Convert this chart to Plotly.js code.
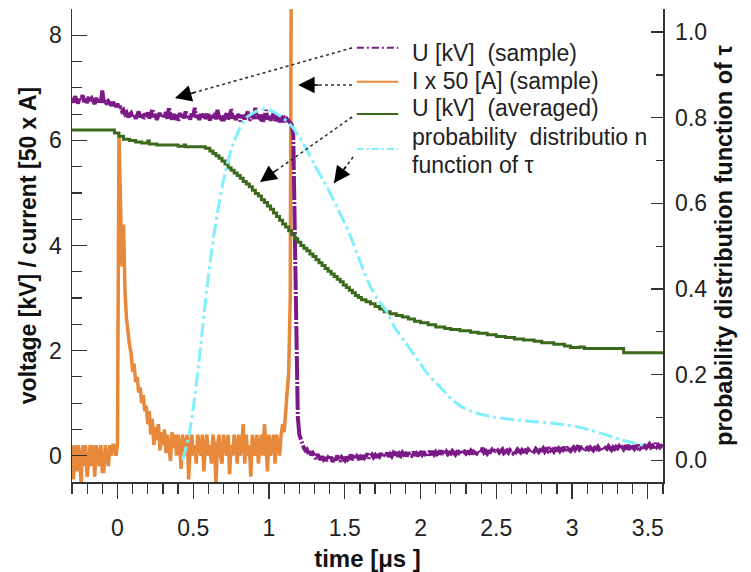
<!DOCTYPE html>
<html>
<head>
<meta charset="utf-8">
<script src="https://cdn.plot.ly/plotly-3.0.1.min.js"></script>
<style>html,body{margin:0;padding:0;background:#fff;}#chart{width:751px;height:572px;}</style>
</head>
<body>
<div id="chart"></div>
<script>
// ---- sampled traces: start time and sampling step (µs) ----
const sampleStart = -0.30;
const sampleStep = 0.01;

// U [kV] (sample), t = -0.30 ... 3.60
const uSample = [
  // -0.30 .. -0.09
  6.80, 6.72, 6.84, 6.76, 6.70, 6.82, 6.78, 6.86, 6.73, 6.79,
  6.71, 6.83, 6.76, 6.80, 6.74, 6.69, 6.81, 6.73, 6.78, 6.70,
  6.95, 6.72,
  // -0.08 .. 0.08
  6.76, 6.68, 6.74, 6.70, 6.66, 6.73, 6.67, 6.64, 6.70, 6.60,
  6.62, 6.55, 6.58, 6.50, 6.53, 6.44, 6.49,
  // 0.09 .. 1.08
  6.52, 6.43, 6.50, 6.41, 6.47, 6.55, 6.44, 6.49, 6.40, 6.51,
  6.46, 6.53, 6.42, 6.48, 6.60, 6.44, 6.50, 6.39, 6.47, 6.52,
  6.43, 6.49, 6.45, 6.54, 6.41, 6.63, 6.46, 6.40, 6.50, 6.44,
  6.48, 6.36, 6.52, 6.45, 6.49, 6.42, 6.55, 6.44, 6.47, 6.40,
  6.51, 6.45, 6.62, 6.43, 6.48, 6.39, 6.50, 6.44, 6.53, 6.41,
  6.46, 6.50, 6.38, 6.47, 6.43, 6.52, 6.40, 6.58, 6.45, 6.42,
  6.49, 6.37, 6.46, 6.51, 6.41, 6.44, 6.60, 6.42, 6.47, 6.39,
  6.45, 6.50, 6.36, 6.44, 6.48, 6.40, 6.46, 6.55, 6.38, 6.43,
  6.47, 6.41, 6.62, 6.39, 6.45, 6.42, 6.49, 6.36, 6.44, 6.58,
  6.40, 6.46, 6.38, 6.43, 6.52, 6.37, 6.44, 6.41, 6.35, 6.47,
  // 1.09 .. 1.15
  6.39, 6.42, 6.34, 6.40, 6.36, 6.32, 6.30,
  // 1.16 .. 1.29 (collapse)
  6.10, 4.20, 1.80, 0.75, 0.40, 0.30, 0.20, 0.15, 0.10, 0.12,
  0.04, 0.08, 0.01, 0.05,
  // 1.30 .. 3.60
  0.00, -0.06, 0.03, -0.04, -0.08, -0.01, -0.07, -0.03, -0.10, -0.04,
  -0.08, -0.02, -0.12, -0.05, -0.09, 0.00, -0.07, -0.11, -0.03, -0.06,
  -0.09, -0.02, -0.07, -0.04, 0.02, -0.08, -0.03, -0.06, -0.01, -0.05,
  -0.02, -0.07, 0.01, -0.04, -0.01, 0.04, -0.05, -0.02, 0.02, -0.03,
  0.01, -0.04, 0.03, -0.01, 0.05, -0.03, 0.02, 0.00, 0.06, -0.02,
  0.03, -0.01, 0.05, 0.01, 0.10, -0.02, 0.04, 0.00, 0.06, 0.02,
  0.04, -0.01, 0.06, 0.02, 0.00, 0.07, 0.03, 0.05, -0.01, 0.04,
  0.06, 0.02, 0.08, 0.03, 0.05, 0.01, 0.09, 0.04, 0.06, 0.02,
  0.07, 0.03, 0.05, 0.10, 0.02, 0.06, 0.04, 0.08, 0.03, 0.06,
  0.04, 0.09, 0.05, 0.02, 0.07, 0.05, 0.11, 0.03, 0.06, 0.08,
  0.04, 0.07, 0.05, 0.09, 0.03, 0.08, 0.06, 0.04, 0.10, 0.05,
  0.08, 0.15, 0.06, 0.09, 0.04, 0.08, 0.07, 0.11, 0.05, 0.09,
  0.07, 0.10, 0.06, 0.09, 0.12, 0.05, 0.08, 0.10, 0.06, 0.11,
  0.08, 0.05, 0.10, 0.07, 0.12, 0.09, 0.06, 0.11, 0.08, 0.10,
  0.07, 0.12, 0.09, 0.06, 0.11, 0.08, 0.13, 0.09, 0.07, 0.11,
  0.10, 0.14, 0.08, 0.12, 0.09, 0.16, 0.10, 0.12, 0.08, 0.13,
  0.11, 0.14, 0.09, 0.13, 0.11, 0.17, 0.10, 0.14, 0.12, 0.09,
  0.13, 0.16, 0.11, 0.14, 0.19, 0.12, 0.15, 0.11, 0.14, 0.12,
  0.15, 0.12, 0.16, 0.13, 0.10, 0.15, 0.13, 0.17, 0.12, 0.14,
  0.16, 0.12, 0.15, 0.13, 0.18, 0.14, 0.11, 0.16, 0.13, 0.17,
  0.14, 0.18, 0.13, 0.16, 0.12, 0.17, 0.15, 0.20, 0.14, 0.16,
  0.17, 0.13, 0.18, 0.15, 0.21, 0.14, 0.17, 0.16, 0.19, 0.15,
  0.18, 0.22, 0.16, 0.19, 0.15, 0.24, 0.17, 0.20, 0.16, 0.19,
  0.18
];

// I x 50 [A] (sample), t = -0.30 ... 1.16
const iSample = [
  0.20, -0.45, 0.20, -0.30, 0.20, 0.00, -0.55, 0.20, -0.20, 0.20,
  -0.40, 0.00, 0.20, -0.20, 0.20, -0.40, 0.20, 0.00, -0.20, 0.20,
  -0.30, -0.30, 0.20, 0.00, -0.20, 0.20, 0.00, 0.20, 0.20, 0.00,
  0.20, 6.10, 4.95, 3.60, 4.40, 3.10, 2.60, 2.30, 2.10, 1.95,
  1.60, 1.75, 1.40, 1.50, 1.20, 1.30, 1.00, 1.15, 0.85, 0.95,
  0.60, 0.85, 0.40, 0.70, 0.20, 0.55, 0.30, 0.60, 0.10, 0.45,
  0.20, 0.50, 0.05, 0.40, 0.20, -0.10, 0.45, 0.15, 0.40, 0.00,
  0.40, 0.20, -0.25, 0.40, 0.00, 0.20, 0.40, -0.45, 0.20, 0.40,
  0.00, 0.20, -0.15, 0.40, 0.20, 0.00, 0.40, -0.30, 0.20, 0.40,
  0.00, 0.20, -0.15, 0.40, 0.20, -0.55, 0.20, 0.40, 0.00, -0.15,
  0.40, 0.20, 0.00, 0.40, -0.35, 0.20, 0.00, 0.40, 0.20, -0.15,
  0.40, 0.00, 0.20, 0.60, -0.15, 0.40, 0.00, 0.20, -0.40, 0.40,
  0.20, 0.00, 0.40, -0.15, 0.20, 0.40, 0.00, 0.60, 0.20, -0.30,
  0.40, 0.00, 0.20, 0.40, -0.15, 0.40, 0.20, 0.00, 0.40, 0.60,
  0.45, 0.80, 1.10, 1.60, 3.00, 12.0, 12.0
];

// U [kV] (averaged) - step line
const avgTime = [-0.30, -0.02, 0.01, 0.04, 0.08, 0.12, 0.16, 0.20, 0.21, 0.26,
  0.40, 0.44, 0.45, 0.58, 0.61, 0.63, 0.65, 0.67, 0.69, 0.71,
  0.73, 0.75, 0.77, 0.79, 0.81, 0.83, 0.85, 0.87, 0.89, 0.91,
  0.93, 0.95, 0.97, 0.99, 1.01, 1.03, 1.05, 1.07, 1.09, 1.11,
  1.13, 1.15, 1.17, 1.19, 1.21, 1.23, 1.25, 1.27, 1.29, 1.31,
  1.33, 1.35, 1.37, 1.39, 1.41, 1.43, 1.45, 1.47, 1.49, 1.51,
  1.53, 1.55, 1.57, 1.59, 1.61, 1.64, 1.67, 1.70, 1.73, 1.76,
  1.80, 1.84, 1.88, 1.92, 1.96, 2.00, 2.05, 2.10, 2.16, 2.20,
  2.26, 2.33, 2.38, 2.44, 2.50, 2.56, 2.62, 2.68, 2.75, 2.80,
  2.88, 2.95, 2.99, 3.05, 3.08, 3.34, 3.60];
const avgU = [6.20, 6.14, 6.08, 6.02, 6.00, 5.97, 5.95, 5.99, 5.93, 5.91,
  5.89, 5.91, 5.88, 5.85, 5.80, 5.75, 5.71, 5.66, 5.61, 5.55,
  5.48, 5.43, 5.38, 5.33, 5.28, 5.22, 5.17, 5.12, 5.05, 4.99,
  4.94, 4.87, 4.82, 4.75, 4.69, 4.62, 4.55, 4.48, 4.41, 4.35,
  4.28, 4.21, 4.13, 4.06, 4.00, 3.95, 3.90, 3.84, 3.79, 3.73,
  3.67, 3.62, 3.56, 3.51, 3.46, 3.41, 3.36, 3.31, 3.25, 3.20,
  3.15, 3.10, 3.05, 3.01, 2.97, 2.93, 2.89, 2.84, 2.79, 2.74,
  2.70, 2.67, 2.64, 2.60, 2.56, 2.53, 2.49, 2.45, 2.42, 2.40,
  2.38, 2.35, 2.33, 2.30, 2.27, 2.25, 2.22, 2.20, 2.18, 2.15,
  2.12, 2.09, 2.06, 2.07, 2.04, 1.96, 1.96];

// probability distribution function of tau (right axis)
const pdfTime = [0.43, 0.47, 0.50, 0.55, 0.59, 0.63, 0.67, 0.71, 0.75, 0.80,
  0.85, 0.90, 0.95, 1.00, 1.05, 1.10, 1.15, 1.20, 1.25, 1.30,
  1.38, 1.45, 1.53, 1.60, 1.67, 1.72, 1.78, 1.83, 1.89, 1.95,
  2.00, 2.05, 2.11, 2.17, 2.22, 2.27, 2.33, 2.40, 2.48, 2.56,
  2.65, 2.75, 2.87, 2.96, 3.05, 3.12, 3.20, 3.27, 3.33, 3.41, 3.49];
const pdfVal = [0.00, 0.055, 0.12, 0.27, 0.40, 0.51, 0.60, 0.67, 0.725, 0.77,
  0.80, 0.812, 0.82, 0.818, 0.81, 0.797, 0.78, 0.755, 0.725, 0.69,
  0.64, 0.59, 0.53, 0.465, 0.405, 0.375, 0.345, 0.31, 0.28, 0.25,
  0.225, 0.20, 0.178, 0.155, 0.138, 0.125, 0.115, 0.107, 0.101, 0.097,
  0.093, 0.09, 0.086, 0.082, 0.077, 0.07, 0.062, 0.054, 0.047, 0.04, 0.033];

// legend texts (drawn as a key inside the plot)
const legendNames = [
  'U [kV]&nbsp; (sample)',
  'I x 50 [A] (sample)',
  'U [kV]&nbsp; (averaged)',
  'probability&nbsp; distributio n',
  'function of τ'
];
const xTicks = [0, 0.5, 1, 1.5, 2, 2.5, 3, 3.5];
const xTickText = ['0', '0.5', '1', '1.5', '2', '2.5', '3', '3.5'];
const yTicks = [0, 2, 4, 6, 8];
const y2Ticks = [0, 0.2, 0.4, 0.6, 0.8, 1.0];
const y2TickText = ['0.0', '0.2', '0.4', '0.6', '0.8', '1.0'];

// annotation arrows (dotted leader lines from key to curves), data coordinates
const arrowFrom = [[1.548, 7.76], [1.548, 7.054], [1.548, 6.445], [1.555, 5.684]];
const arrowTo   = [[0.380, 6.807], [1.192, 7.054], [0.941, 5.209], [1.429, 5.19]];

const FONT = 'Liberation Sans, Arial, Helvetica, sans-serif';
const purple = '#7b1a86', orange = '#e8883a', green = '#3b6a1c', cyan = '#80f0ff';
const purpleDash = '24px,2px,2px,2px';
const cyanDash = '14px,4px,3px,4px';

const traces = [
  {x0: sampleStart, dx: sampleStep, y: iSample, type: 'scatter', mode: 'lines',
   name: 'I x 50 [A] (sample)', line: {color: orange, width: 3.5}},
  {x0: sampleStart, dx: sampleStep, y: uSample, type: 'scatter', mode: 'lines',
   name: 'U [kV] (sample)', line: {color: purple, width: 4, dash: purpleDash}},
  {x: avgTime, y: avgU, type: 'scatter', mode: 'lines', name: 'U [kV] (averaged)',
   line: {color: green, width: 3, shape: 'hv'}},
  {x: pdfTime, y: pdfVal, yaxis: 'y2', type: 'scatter', mode: 'lines', name: 'probability distribution function of τ',
   line: {color: cyan, width: 3, dash: cyanDash, shape: 'spline', smoothing: 0.8}}
];

// key (legend) layout in paper coordinates
const keySym = [
  {y: 0.918, color: purple, dash: '7px,3px,2px,3px'},
  {y: 0.846, color: orange, dash: 'solid'},
  {y: 0.778, color: green, dash: 'solid'},
  {y: 0.704, color: cyan, dash: '7px,3px,2px,3px'}
];
const keyTextY = [0.907, 0.848, 0.791, 0.729, 0.670];

const shapes = arrowFrom.map((p, i) => ({
  type: 'line', xref: 'x', yref: 'y', x0: p[0], y0: p[1], x1: arrowTo[i][0], y1: arrowTo[i][1],
  line: {color: '#333', width: 1.6, dash: 'dot'}
})).concat(keySym.map(s => ({
  type: 'line', xref: 'paper', yref: 'paper', x0: 0.482, x1: 0.552, y0: s.y, y1: s.y,
  line: {color: s.color, width: 2, dash: s.dash}
})));

const headOffsets = [[21, -6], [22, 0], [18, -13], [13, -18]];
const annotations = arrowTo.map((p, i) => ({
  xref: 'x', yref: 'y', x: p[0], y: p[1], ax: headOffsets[i][0], ay: headOffsets[i][1],
  text: '', showarrow: true, arrowhead: 2, arrowsize: 2.2, arrowwidth: 1.5, arrowcolor: '#000'
})).concat(legendNames.map((t, i) => ({
  xref: 'paper', yref: 'paper', x: 0.572, y: keyTextY[i], xanchor: 'left', yanchor: 'middle',
  text: t, showarrow: false, font: {family: FONT, size: 23, color: '#222'}
})));

const axisLine = '#333';
const layout = {
  width: 751, height: 572,
  margin: {l: 72, r: 88, t: 9, b: 90},
  paper_bgcolor: '#fff', plot_bgcolor: '#fff',
  font: {family: FONT, size: 23, color: '#222'},
  showlegend: false,
  xaxis: {range: [-0.3, 3.6], tickvals: xTicks, ticktext: xTickText, ticks: 'outside', ticklen: 15,
          tickwidth: 1.3, tickcolor: axisLine, showline: true, linecolor: axisLine, linewidth: 1.5,
          showgrid: false, zeroline: false, ticklabelstandoff: 10,
          minor: {dtick: 0.1, tick0: 0, ticks: 'outside', ticklen: 10, tickwidth: 1.2, tickcolor: axisLine},
          title: {text: '<b>time [μs ]</b>', font: {family: FONT, size: 24, color: '#111'}, standoff: 11}},
  xaxis2: {range: [-0.3, 3.6], overlaying: 'x', side: 'top', anchor: 'y', tickvals: xTicks,
           showticklabels: false, ticks: 'inside', ticklen: 10, tickwidth: 1.3, tickcolor: axisLine,
           showline: true, linecolor: axisLine, linewidth: 1.5, showgrid: false, zeroline: false,
           minor: {dtick: 0.1, tick0: 0, ticks: 'inside', ticklen: 7, tickwidth: 1.2, tickcolor: axisLine}},
  yaxis: {range: [-0.5, 8.5], tickvals: yTicks, ticks: 'inside', ticklen: 15, tickwidth: 1.3,
          tickcolor: axisLine, showline: true, linecolor: axisLine, linewidth: 1.5, showgrid: false,
          zeroline: false, ticklabelstandoff: 4,
          minor: {dtick: 0.5, tick0: 0, ticks: 'inside', ticklen: 10, tickwidth: 1.2, tickcolor: axisLine},
          title: {text: '<b>voltage [kV] / current [50 x A]</b>', font: {family: FONT, size: 23, color: '#111'}, standoff: 6}},
  yaxis2: {range: [-0.051, 1.054], overlaying: 'y', side: 'right', anchor: 'x', tickvals: y2Ticks,
           ticktext: y2TickText, ticks: 'inside', ticklen: 12, tickwidth: 1.3, tickcolor: axisLine,
           showline: true, linecolor: axisLine, linewidth: 1.5, showgrid: false, zeroline: false,
           ticklabelstandoff: 6,
           minor: {dtick: 0.1, tick0: 0, ticks: 'inside', ticklen: 7, tickwidth: 1.2, tickcolor: axisLine},
           title: {text: '<b>probability distribution function of τ</b>', font: {family: FONT, size: 23.5, color: '#111'}, standoff: 9}},
  shapes: shapes,
  annotations: annotations
};

Plotly.newPlot('chart', traces, layout, {displayModeBar: false, staticPlot: true});
</script>
</body>
</html>
